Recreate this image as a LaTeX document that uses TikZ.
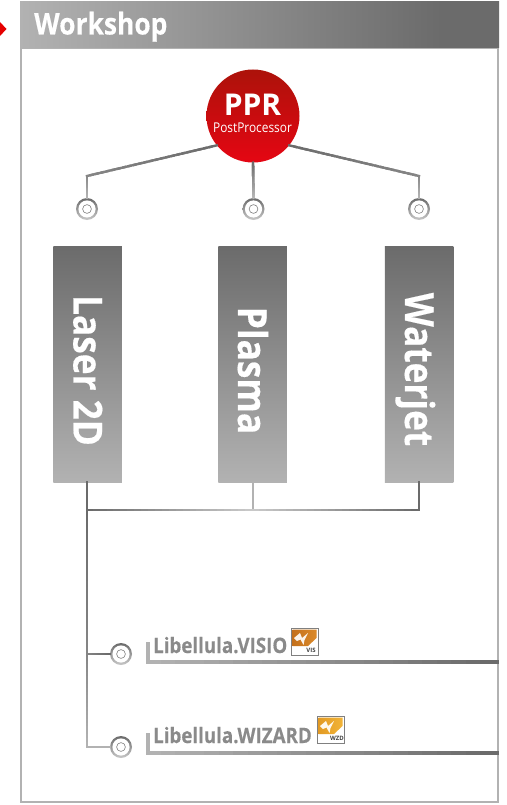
\documentclass[tikz,border=0pt]{standalone}
\usepackage{fontspec}
\setmainfont{Open Sans}
\newfontfamily\condfont[FakeStretch=0.88,FakeBold=0.35]{Open Sans}
\usetikzlibrary{calc}
\definecolor{graydark}{HTML}{6B6B6B}
\definecolor{graylight}{HTML}{B2B2B2}
\definecolor{graypale}{HTML}{C8C8C8}
\definecolor{graymid}{HTML}{858585}
\definecolor{labelgray}{HTML}{8A8A8A}
\definecolor{pprtop}{HTML}{AC120A}
\definecolor{pprbottom}{HTML}{E50613}
\definecolor{visdark}{HTML}{C4701C}
\definecolor{vislight}{HTML}{DC8A2A}
\definecolor{wzddark}{HTML}{E29A24}
\definecolor{wzdlight}{HTML}{F2B437}
\pgfdeclarehorizontalshading{headbar}{100bp}{color(0bp)=(graylight); color(25bp)=(graylight); color(69bp)=(graydark); color(100bp)=(graydark)}
% line that fades from one colour into another
\newcommand{\gradline}[5][2.4pt]{%
  \foreach \k in {0,...,23} {
    \pgfmathsetmacro{\ta}{\k/24}
    \pgfmathsetmacro{\tb}{min(1,(\k+1.3)/24)}
    \pgfmathsetmacro{\mixp}{100-100*\k/23}
    \draw [line width=#1,line cap=rect,color=#4!\mixp!#5] ($(#2)!\ta!(#3)$) -- ($(#2)!\tb!(#3)$);
  }%
}
% small product icon: top left corner, tag, orange left and right
\newcommand{\libicon}[6]{%
  \begin{scope}[shift={(#1,#2)}]
    \fill [white] (0,0) rectangle (27,27);
    \shade [left color=#4,right color=#5] (1.5,1.5) -- (25.5,1.5) -- (25.5,10) -- (17,18) -- (1.5,18) -- cycle;
    \fill [white!90!#5] (3,10) -- (9,5) -- (11,10) -- (17,5) -- (13.5,12) -- (12.5,17) -- (9.5,11.5) -- (6,13) -- cycle;
    \draw [gray,line width=1pt] (0,0) rectangle (27,27);
    \node [icontag] (#6) at (20,22.5) {#3};
  \end{scope}%
}
\tikzset{
  lanebox/.style={shading=axis,top color=graydark,bottom color=graylight,minimum width=68.5pt,minimum height=236pt,inner sep=0pt},
  lanetext/.style={rotate=-90,anchor=base,inner sep=0pt,text=white,font=\fontsize{40}{40}\selectfont\condfont\bfseries},
  ringnode/.style={circle,inner sep=0pt,minimum size=22pt,top color=graydark,bottom color=graypale,
    path picture={\fill [white] (path picture bounding box.center) circle (8.6pt);
      \draw [gray,line width=.6pt] (path picture bounding box.center) circle (4.4pt);}},
  prodlabel/.style={anchor=base west,inner sep=0pt,text=labelgray,font=\fontsize{21.3}{21.3}\selectfont\condfont\bfseries},
  icontag/.style={inner sep=0pt,text=black!75,font=\fontsize{6}{6}\selectfont\bfseries},
}
\begin{document}
\begin{tikzpicture}[x=1pt,y=-1pt]
  \useasboundingbox (0,0) rectangle (506,805);
  % Frame
  \draw [graylight,line width=2pt] (21,48) rectangle (498,802);
  \fill [red!90!black] (0,22) -- (6.5,29) -- (0,36) -- cycle;
  % Node: header
  \node [shading=headbar,minimum width=479pt,minimum height=46pt,inner sep=0pt] (header) at (259.5,25) {};
  \node [anchor=base west,inner sep=0pt,text=white,font=\fontsize{30}{30}\selectfont\condfont\bfseries] (title) at (34,34.5) {Workshop};
  % Node: PPR
  \node [circle,inner sep=0pt,minimum size=93pt,top color=pprtop,bottom color=pprbottom] (ppr) at (253,116) {};
  \node [anchor=base,inner sep=0pt,text=white,font=\fontsize{30}{30}\selectfont\bfseries] (pprname) at (252.5,116) {PPR};
  \node [anchor=base,inner sep=0pt,text=white,font=\fontsize{13.5}{13.5}\selectfont\addfontfeature{FakeStretch=0.88}] (pprsub) at (252.5,132.5) {PostProcessor};
  % Node: rings
  \node [ringnode] (ringA) at (87,209) {};
  \node [ringnode] (ringB) at (253.5,209) {};
  \node [ringnode] (ringC) at (419,209) {};
  \node [ringnode] (ringD) at (121,654) {};
  \node [ringnode] (ringE) at (121,747) {};
  % Node: lanes
  \node [lanebox] (laser) at (87.5,364) {};
  \node [lanebox] (plasma) at (252.5,364) {};
  \node [lanebox] (waterjet) at (419,364) {};
  \node [lanetext] (lasertext) at (73.5,370.5) {Laser 2D};
  \node [lanetext] (plasmatext) at (238,370.5) {Plasma};
  \node [lanetext] (waterjettext) at (405,369.5) {Waterjet};
  % Node: products
  \node [prodlabel] (visio) at (153,653) {Libellula.VISIO};
  \node [prodlabel] (wizard) at (153,743) {Libellula.WIZARD};
  \libicon{291}{628}{VIS}{visdark}{vislight}{visicon}
  \libicon{317}{716}{WZD}{wzddark}{wzdlight}{wzdicon}
  % Elbows
  \coordinate (elbowA) at (87,176);
  \coordinate (elbowC) at (419,176);
  \coordinate (busL) at (87,510);
  \coordinate (busM) at (253,510);
  \coordinate (busR) at (419,510);
  \coordinate (trunkD) at (87,654);
  \coordinate (trunkE) at (87,747);
  \coordinate (visioL) at (148,662);
  \coordinate (visioT) at (148,644);
  \coordinate (visioR) at (497,662);
  \coordinate (wizardL) at (148,753);
  \coordinate (wizardT) at (148,735);
  \coordinate (wizardR) at (497,753);
  % Edge: ppr -> rings
  \gradline{ppr.219}{elbowA}{graydark}{graymid}
  \gradline{elbowA}{ringA.north}{graymid}{graylight}
  \gradline{ppr.south}{ringB.north}{graydark}{graylight}
  \gradline{ppr.321}{elbowC}{graydark}{graymid}
  \gradline{elbowC}{ringC.north}{graymid}{graylight}
  % Edge: lanes -> bus
  \gradline{laser.south -| busL}{busL}{graydark}{graydark}
  \gradline{plasma.south -| busM}{busM}{graylight}{graylight}
  \gradline{waterjet.south -| busR}{busR}{graydark}{graydark}
  \gradline{busL}{busM}{graydark}{graypale}
  \gradline{busM}{busR}{graypale}{graydark}
  % Edge: bus -> products
  \gradline{busL}{trunkD}{graydark}{graymid}
  \gradline{trunkD}{trunkE}{graymid}{graylight}
  \gradline{trunkD}{ringD.west}{graymid}{graydark}
  \gradline{trunkE}{ringE.west}{graylight}{graylight}
  % Edge: product brackets
  \gradline[4pt]{visioT}{visioL}{graylight}{graylight}
  \gradline[4pt]{visioL}{visioR}{graylight}{graydark}
  \gradline[4pt]{wizardT}{wizardL}{graylight}{graylight}
  \gradline[4pt]{wizardL}{wizardR}{graylight}{graydark}
\end{tikzpicture}
\end{document}
